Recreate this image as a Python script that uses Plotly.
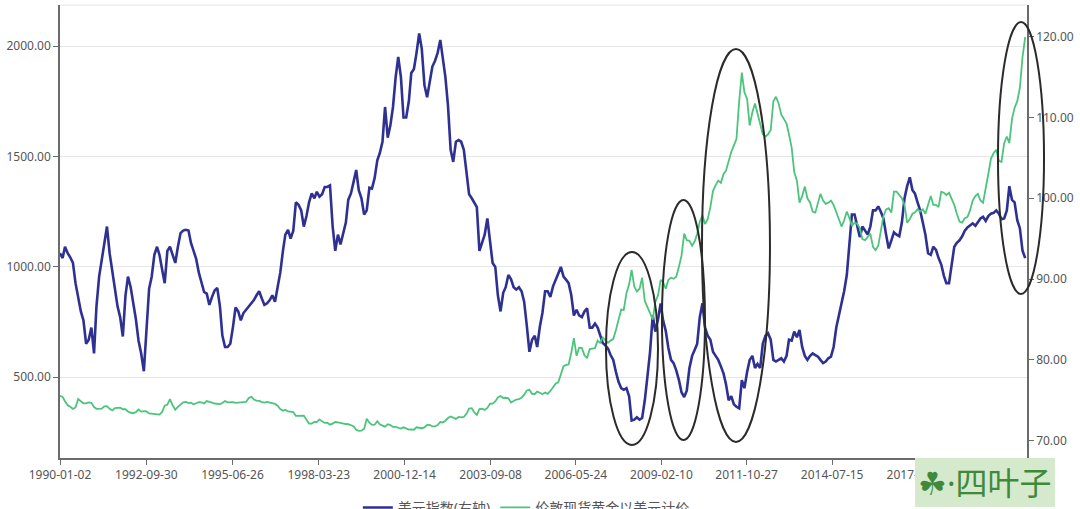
import pandas as pd
import plotly.graph_objects as go

# monthly points, Jan 1990 .. Sep 2020
months = pd.date_range("1990-01-01", "2020-09-01", freq="MS")

usd_index = [
    93.2, 92.6, 94.0, 93.2, 92.7, 92.0, 89.5, 87.5, 86.0, 84.9, 82.0, 82.5,
    84.0, 80.8, 86.6, 90.3, 92.4, 95.0, 96.5, 93.2, 91.0, 88.5, 86.6, 85.3,
    82.9, 88.0, 90.3, 89.0, 87.0, 85.0, 82.4, 80.8, 78.6, 84.0, 88.8, 90.3,
    93.0, 94.0, 93.0, 91.2, 89.5, 93.5, 94.0, 93.0, 92.0, 94.0, 95.7, 96.0,
    96.1, 96.0, 94.5, 93.5, 92.5, 90.8, 89.5, 88.4, 88.2, 86.8, 87.8, 88.6,
    88.9, 86.6, 83.0, 81.6, 81.6, 82.0, 84.0, 86.5, 86.0, 84.9, 85.8, 86.2,
    86.6, 87.0, 87.4, 88.0, 88.5, 87.6, 86.8, 87.0, 87.4, 88.0, 87.2, 89.0,
    90.8, 93.5, 95.5, 96.1, 95.0, 96.0, 99.5, 99.2, 98.5, 96.5, 97.8, 99.5,
    100.6, 100.0, 100.8, 100.2, 100.5, 101.4, 101.4, 101.6, 96.5, 93.5, 95.5, 94.3,
    95.5, 97.0, 99.8, 100.6, 102.0, 103.5, 101.0, 100.0, 98.0, 98.5, 101.3, 101.2,
    102.5, 104.7, 105.6, 107.0, 111.3, 107.5, 109.0, 111.3, 115.0, 117.5, 115.0, 110.0,
    110.0, 112.0, 115.5, 116.0, 118.0, 120.4, 118.5, 114.0, 112.5, 114.6, 116.3, 117.0,
    118.0, 119.6, 117.5, 115.0, 111.5, 106.0, 104.5, 107.0, 107.2, 107.0, 106.0, 103.1,
    100.5, 100.0, 99.5, 98.9, 93.5, 94.5, 95.5, 97.5, 94.4, 92.0, 91.5, 88.0,
    86.0, 88.3, 89.0, 90.5, 90.0, 89.0, 88.7, 89.0, 88.5, 87.2, 84.2, 81.0,
    82.5, 83.0, 81.6, 84.1, 85.8, 88.5, 88.5, 87.8, 89.1, 90.0, 90.7, 91.5,
    90.3, 89.9, 89.5, 88.0, 85.5, 86.2, 85.5, 85.3, 86.0, 86.4, 84.0, 84.0,
    84.5, 84.0, 83.0, 82.1, 81.8, 81.4, 80.6, 80.0, 78.5, 77.3, 76.5, 76.3,
    76.5, 75.5, 72.5, 72.6, 72.9, 72.6, 72.8, 75.0, 78.0, 81.0, 85.5, 83.5,
    85.0, 87.0, 84.9, 83.6, 81.5, 80.0, 79.6, 78.7, 77.5, 76.0, 75.4, 76.2,
    79.0, 80.5, 81.2, 82.0, 85.3, 87.0, 84.0, 83.0, 82.5, 81.0, 80.5, 80.0,
    79.2, 78.3, 77.0, 75.0, 75.5, 74.5, 74.2, 74.0, 77.5, 76.5, 78.5, 80.0,
    80.5, 79.0, 79.5, 79.0, 82.0, 83.0, 83.3, 82.5, 80.0, 79.8, 80.0, 80.2,
    79.8, 80.5, 82.5, 82.4, 83.5, 82.8, 83.7, 81.6, 80.5, 80.0, 80.5, 80.8,
    80.6, 80.4, 80.0, 79.6, 79.8, 80.2, 80.4, 81.6, 84.0, 85.5, 87.4, 88.5,
    90.5, 94.0, 98.0, 98.0, 96.5, 95.2, 96.5, 96.0, 95.5, 96.5, 98.5, 98.5,
    99.0, 98.3, 97.5, 95.5, 93.8, 94.8, 95.8, 95.5, 95.3, 97.0, 100.0, 101.5,
    102.6, 101.0, 100.6, 99.5, 98.5, 97.0, 95.5, 93.2, 93.0, 94.0, 93.6, 92.6,
    91.8, 90.4, 89.5, 89.5, 92.0, 94.0, 94.5, 94.8, 95.3, 96.0, 96.4, 96.6,
    96.9, 96.6, 97.0, 97.5, 97.7, 97.2, 97.8, 98.1, 98.2, 98.5, 98.1, 97.4,
    97.5, 98.5, 101.5, 99.8, 99.5, 97.3, 96.3, 93.5, 92.6,
]

gold_usd = [
    415, 410, 390, 372, 365, 355, 362, 400, 390, 381, 381, 385,
    383, 364, 356, 357, 357, 367, 368, 356, 349, 359, 361, 361,
    354, 354, 344, 338, 337, 341, 353, 343, 345, 344, 335, 334,
    330, 329, 330, 342, 370, 375, 400, 372, 352, 365, 375, 385,
    387, 382, 384, 377, 381, 386, 385, 380, 391, 389, 384, 380,
    379, 377, 382, 391, 385, 387, 386, 383, 383, 383, 386, 387,
    405, 410, 398, 393, 392, 386, 384, 387, 383, 381, 378, 370,
    355, 347, 352, 344, 344, 341, 324, 324, 323, 325, 306, 289,
    289, 297, 296, 308, 299, 292, 293, 284, 289, 296, 294, 291,
    287, 287, 286, 282, 277, 261, 256, 257, 265, 311, 293, 283,
    284, 300, 286, 280, 275, 286, 282, 274, 274, 270, 266, 272,
    266, 262, 263, 261, 272, 270, 268, 272, 283, 283, 276, 276,
    282, 296, 294, 302, 314, 321, 314, 310, 319, 317, 319, 333,
    357, 359, 340, 328, 355, 356, 351, 360, 379, 379, 389, 407,
    414, 405, 406, 404, 384, 392, 398, 400, 406, 420, 439, 442,
    424, 423, 434, 429, 422, 430, 424, 437, 456, 470, 476, 510,
    549, 555, 557, 610, 676, 596, 633, 632, 598, 585, 627, 629,
    631, 665, 655, 679, 667, 655, 665, 672, 713, 754, 806, 804,
    880, 920, 985, 910, 888, 900, 950, 845, 820, 790, 760, 840,
    870, 940, 930, 900, 940, 950, 945, 955, 1000, 1050, 1150, 1120,
    1117, 1095, 1113, 1148, 1205, 1232, 1193, 1215, 1270, 1343, 1370, 1390,
    1380, 1420, 1435, 1480, 1520, 1550, 1580, 1750, 1880, 1790, 1760, 1640,
    1700, 1740, 1690, 1640, 1600, 1590, 1600, 1620, 1750, 1770, 1740, 1690,
    1670, 1649, 1600, 1540, 1430, 1390, 1290, 1320, 1363, 1310, 1290, 1250,
    1245, 1290, 1330, 1300, 1285, 1290, 1300, 1280, 1250, 1220, 1182, 1210,
    1250, 1220, 1185, 1200, 1195, 1175, 1125, 1120, 1135, 1150, 1090, 1075,
    1095, 1170, 1230, 1260, 1265, 1245, 1340, 1340, 1325, 1310, 1280, 1200,
    1215, 1240, 1245, 1260, 1250, 1260, 1240, 1285, 1320, 1280, 1280, 1270,
    1340, 1335, 1325, 1335, 1305, 1280, 1240, 1205, 1200, 1220, 1225, 1255,
    1300, 1320, 1330, 1300, 1290, 1350, 1420, 1490, 1515, 1530, 1480, 1475,
    1560, 1590, 1560, 1670, 1720, 1750, 1810, 1950, 2040,
]

tick_dates = ["1990-01-02", "1992-09-30", "1995-06-26", "1998-03-23", "2000-12-14",
              "2003-09-08", "2006-05-24", "2009-02-10", "2011-10-27", "2014-07-15",
              "2017-04-05", "2019-12-27"]
left_ticks = [500, 1000, 1500, 2000]
right_ticks = [70, 80, 90, 100, 110, 120]

BLUE = "#2e3192"
GREEN = "#4cc47c"
AXIS = "#6b6b6b"
TEXT = "#555555"
FONT = "Noto Sans, Noto Sans CJK SC, sans-serif"

fig = go.Figure()
# dollar index on the right axis (y), gold on the left axis (y2, drawn on top)
fig.add_trace(go.Scatter(x=months, y=usd_index, name="美元指数(右轴)", mode="lines",
                         line=dict(color=BLUE, width=2.6), yaxis="y"))
fig.add_trace(go.Scatter(x=months, y=gold_usd, name="伦敦现货黄金以美元计价", mode="lines",
                         line=dict(color=GREEN, width=1.8), yaxis="y2"))

axis_style = dict(showline=True, linecolor=AXIS, linewidth=1.5,
                  ticks="outside", ticklen=5, tickcolor=AXIS,
                  tickfont=dict(size=12, color=TEXT))

# hand-drawn ellipses marking the dollar lows / gold highs
ellipses = [
    (0.5646, 0.0287, 0.6184, 0.4547),
    (0.6225, 0.0397, 0.6670, 0.5695),
    (0.6639, 0.0353, 0.7342, 0.9029),
    (0.9700, 0.3620, 1.0176, 0.9625),
]
shapes = [dict(type="line", xref="paper", yref="paper", x0=0, x1=1, y0=1, y1=1,
               line=dict(color="#e6e6e6", width=1))]
for x0, y0, x1, y1 in ellipses:
    shapes.append(dict(type="circle", xref="paper", yref="paper",
                       x0=x0, y0=y0, x1=x1, y1=y1,
                       line=dict(color="#2b2b2b", width=2)))

fig.update_layout(
    width=1080, height=509,
    margin=dict(l=60, r=53, t=5, b=51, autoexpand=False),
    paper_bgcolor="white", plot_bgcolor="white",
    font=dict(family=FONT, color=TEXT),
    xaxis=dict(type="date", range=["1990-01-02", "2020-09-22"], domain=[0, 1],
               tickvals=tick_dates, ticktext=tick_dates, showgrid=False, **axis_style),
    yaxis=dict(side="right", range=[67.86, 123.92], tickvals=right_ticks,
               tickformat=".2f", showgrid=False, zeroline=False, **axis_style),
    yaxis2=dict(side="left", overlaying="y", range=[133, 2186], tickvals=left_ticks,
                tickformat=".2f", showgrid=True, gridcolor="#e6e6e6", zeroline=False,
                **axis_style),
    shapes=shapes,
    legend=dict(orientation="h", x=0.308, xanchor="left", y=-0.11, yanchor="middle",
                traceorder="normal", font=dict(size=14, color=TEXT),
                bgcolor="rgba(0,0,0,0)"),
    annotations=[dict(text="☘·四叶子", xref="paper", yref="paper",
                      x=0.884, y=-0.055, xanchor="left", yanchor="middle",
                      showarrow=False, font=dict(size=32, color="#3f8a3a"),
                      bgcolor="#d5e9cd", bordercolor="#d5e9cd", borderpad=2)],
)

fig.write_html("out.html", config={"displayModeBar": False},
               post_script="document.body.style.margin='0';")
